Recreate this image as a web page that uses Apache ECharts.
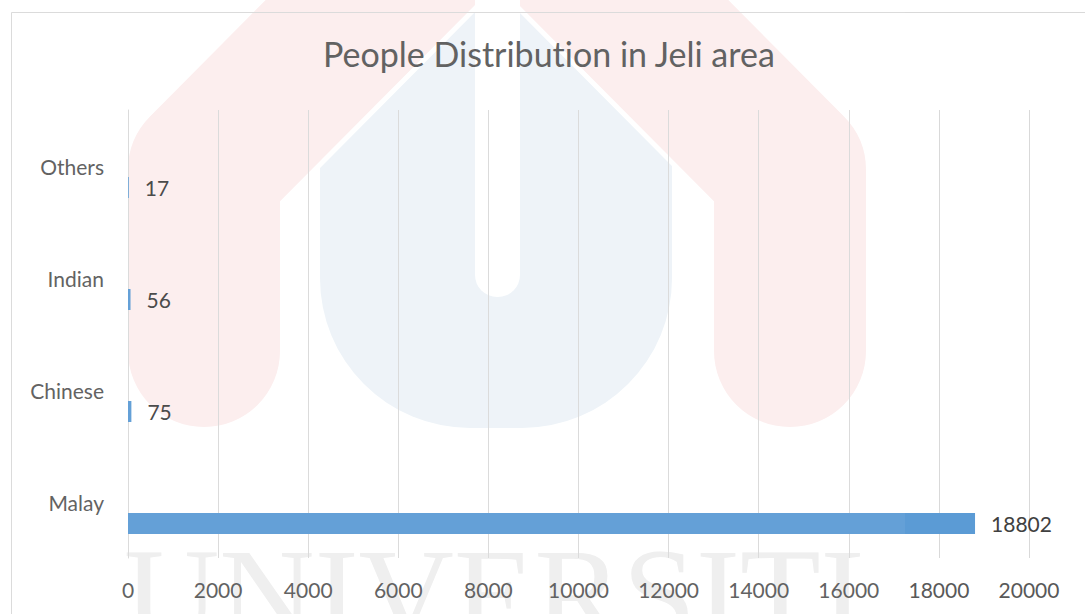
<!DOCTYPE html>
<html>
<head>
<meta charset="utf-8">
<title>People Distribution in Jeli area</title>
<script src="https://cdn.jsdelivr.net/npm/echarts@6/dist/echarts.min.js"></script>
<style>
  html, body { margin: 0; padding: 0; background: #ffffff; }
  #chart { width: 1085px; height: 614px; }
  /* keep "ti" and similar pairs as separate letters */
  #chart text { font-variant-ligatures: none !important; }
</style>
</head>
<body>
<div id="chart"></div>
<script>
// Ethnic groups, listed bottom to top on the category axis
const categories = ['Malay', 'Chinese', 'Indian', 'Others'];
// Number of people in each group
const population = [18802, 75, 56, 17];
// Empty companion series that occupies the upper slot of each band
const blankSlot = [null, null, null, null];
// Value axis scale
const axisMin = 0;
const axisMax = 20000;
const axisStep = 2000;

const FONT = 'Lato';
const TITLE = 'People Distribution in Jeli area';
const TITLE_SIZE = 34;
const TITLE_CENTER_X = 550;

// width of the title, so it can be centred over the chart frame
const measureCtx = document.createElement('canvas').getContext('2d');
measureCtx.font = TITLE_SIZE + 'px ' + FONT;
const titleWidth = measureCtx.measureText(TITLE).width;

const chart = echarts.init(document.getElementById('chart'), null, { renderer: 'svg' });

// Faint logo and lettering printed behind the chart
const archPoints = [[204, 351], [204, 170], [497, -125], [790, 170], [790, 351]];
const backdrop = [
  {
    type: 'rect', z: -20, silent: true,
    shape: { x: 320, y: -60, width: 352, height: 488, r: [0, 0, 150, 150] },
    style: { fill: '#EDF3F8' }
  },
  {
    type: 'polyline', z: -19, silent: true,
    shape: { points: archPoints },
    style: { stroke: '#ffffff', lineWidth: 162, lineCap: 'round', lineJoin: 'round', fill: null }
  },
  {
    type: 'polyline', z: -18, silent: true,
    shape: { points: archPoints },
    style: { stroke: '#FCEDED', lineWidth: 152, lineCap: 'round', lineJoin: 'round', fill: null }
  },
  {
    type: 'rect', z: -17, silent: true,
    shape: { x: 475, y: -60, width: 45, height: 357, r: [0, 0, 22, 22] },
    style: { fill: '#ffffff' }
  },
  {
    type: 'text', z: -16, silent: true,
    x: 124, y: 594,
    style: {
      text: 'UNIVERSITI',
      fontFamily: 'Liberation Serif', fontSize: 132,
      fill: '#EEEEEE',
      align: 'left', verticalAlign: 'middle'
    }
  },
  // chart area frame
  {
    type: 'rect', z: -15, silent: true,
    shape: { x: 11.5, y: 12.5, width: 1200, height: 800 },
    style: { fill: null, stroke: '#D9D9D9', lineWidth: 1 }
  },
  // light veil over the left part of the page
  {
    type: 'rect', z: 50, silent: true,
    shape: { x: 0, y: 0, width: 905, height: 614 },
    style: { fill: 'rgba(255,255,255,0.06)' }
  }
];

const option = {
  backgroundColor: '#ffffff',
  animation: false,
  title: {
    text: TITLE,
    left: Math.round(TITLE_CENTER_X - titleWidth / 2),
    top: 36,
    padding: 0,
    textStyle: { fontFamily: FONT, fontSize: TITLE_SIZE, fontWeight: 'normal', color: '#595959' }
  },
  grid: { left: 128, right: 56, top: 110, bottom: 56, containLabel: false },
  xAxis: {
    type: 'value',
    min: axisMin,
    max: axisMax,
    interval: axisStep,
    axisLine: { show: false },
    axisTick: { show: false },
    splitLine: { show: true, lineStyle: { color: '#D9D9D9', width: 1 } },
    axisLabel: {
      color: '#595959', fontFamily: FONT, fontSize: 21, margin: 21,
      formatter: (v) => String(v)
    }
  },
  yAxis: {
    type: 'category',
    data: categories,
    axisLine: { show: true, lineStyle: { color: '#D9D9D9', width: 1 } },
    axisTick: { show: false },
    splitLine: { show: false },
    axisLabel: {
      color: '#595959', fontFamily: FONT, fontSize: 21, margin: 24,
      padding: [0, 0, 4, 0]
    }
  },
  series: [
    {
      name: 'blank',
      type: 'bar',
      data: blankSlot,
      barWidth: 21,
      barGap: '105%',
      itemStyle: { color: 'rgba(0,0,0,0)' }
    },
    {
      name: 'Population',
      type: 'bar',
      data: population,
      barWidth: 21,
      barGap: '105%',
      itemStyle: { color: '#5B9BD5' },
      label: {
        show: true,
        position: 'right',
        distance: 16,
        color: '#404040',
        fontFamily: FONT,
        fontSize: 21
      }
    }
  ],
  graphic: { elements: backdrop }
};

chart.setOption(option);
</script>
</body>
</html>
